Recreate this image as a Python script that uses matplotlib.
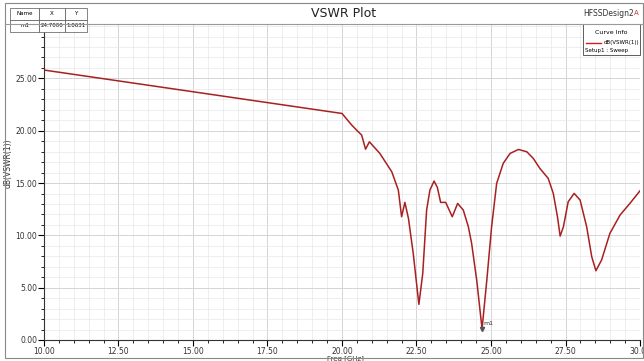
import numpy as np
import matplotlib.pyplot as plt
from matplotlib.patches import Rectangle
from matplotlib.lines import Line2D

# curve
freq = [10.0, 20.0, 20.33, 20.49, 20.66, 20.79, 20.92, 21.27, 21.67, 21.89, 22.0,
        22.11, 22.23, 22.39, 22.58, 22.71, 22.84, 22.95, 23.09, 23.2, 23.31, 23.48,
        23.7, 23.88, 24.07, 24.24, 24.35, 24.52, 24.7, 24.86, 25.02, 25.19, 25.41,
        25.64, 25.92, 26.2, 26.42, 26.64, 26.92, 27.09, 27.23, 27.32, 27.43, 27.59,
        27.79, 27.99, 28.21, 28.38, 28.52, 28.71, 28.99, 29.33, 29.66, 30.0]
vswr_db = [25.8, 21.65, 20.53, 20.06, 19.58, 18.24, 18.94, 17.83, 16.08, 14.33, 11.78,
           13.15, 11.62, 8.28, 3.4, 6.37, 12.42, 14.33, 15.19, 14.58, 13.15, 13.15,
           11.78, 13.05, 12.42, 10.82, 9.23, 5.73, 1.06, 5.73, 10.82, 14.97, 16.88,
           17.83, 18.21, 17.99, 17.35, 16.4, 15.44, 14.01, 11.78, 9.93, 10.82, 13.21,
           14.01, 13.37, 10.82, 7.96, 6.62, 7.64, 10.19, 11.94, 13.05, 14.26]
marker_x = 24.7
marker_y = 1.0631
xticks = [10.0, 12.5, 15.0, 17.5, 20.0, 22.5, 25.0, 27.5, 30.0]
yticks = [0, 5, 10, 15, 20, 25]

fig = plt.figure(figsize=(6.44, 3.61), dpi=100)
ax = fig.add_axes([0.0683, 0.0582, 0.9255, 0.8753])

ax.plot(freq, vswr_db, color='#a82020', linewidth=1.1)
ax.plot(marker_x, marker_y, marker='v', color='#555555', markersize=3)
ax.text(marker_x + 0.05, marker_y + 0.4, 'm1', fontsize=4.5, color='#333333')

ax.set_xlim(10, 30)
ax.set_ylim(0, 30.2)
ax.set_xticks(xticks)
ax.set_xticklabels([f'{t:.2f}' for t in xticks], fontsize=5.5, color='#333333')
ax.set_yticks(yticks)
ax.set_yticklabels([f'{t:.2f}' for t in yticks], fontsize=5.5, color='#333333')
ax.set_xticks(np.arange(10, 30.01, 0.5), minor=True)
ax.set_yticks(np.arange(0, 30.1, 1), minor=True)
ax.tick_params(which='major', length=4, width=0.8, direction='out', pad=1)
ax.tick_params(which='minor', length=2.5, width=0.6, direction='out')
ax.grid(which='major', color='#d4d4d4', linewidth=0.7)
ax.grid(which='minor', color='#e8e8e8', linewidth=0.5)
ax.set_axisbelow(True)
for side in ['top', 'right']:
    ax.spines[side].set_visible(False)
ax.spines['left'].set_color('#333333')
ax.spines['bottom'].set_color('#333333')
ax.set_xlabel('Freq [GHz]', fontsize=5, color='#333333')
ax.xaxis.set_label_coords(0.505, -0.048)
ax.xaxis.label.set_va('top')
ax.set_ylabel('dB(VSWR(1))', fontsize=5.5, color='#333333')
ax.yaxis.set_label_coords(-0.052, 0.56)

# frame and title strip
fig.patches.append(Rectangle((0.008, 0.008), 0.99, 0.985, transform=fig.transFigure,
                             fill=False, edgecolor='#888888', linewidth=0.8))
fig.lines.append(Line2D([0.008, 0.998], [0.934, 0.934], transform=fig.transFigure,
                        color='#999999', linewidth=0.8))
fig.text(0.533, 0.963, 'VSWR Plot', fontsize=9, ha='center', va='center', color='#222222')
fig.text(0.905, 0.963, 'HFSSDesign2', fontsize=5.5, ha='left', va='center', color='#333333')
fig.text(0.984, 0.963, 'A', fontsize=5, ha='left', va='center', color='#cc3333')

# marker table
tab = ax.table(cellText=[['m1', '24.7000', '1.0631']], colLabels=['Name', 'X', 'Y'],
               bbox=[-0.057, 0.975, 0.129, 0.076], cellLoc='center',
               colWidths=[0.38, 0.33, 0.29])
tab.auto_set_font_size(False)
tab.set_fontsize(4)
for cell in tab.get_celld().values():
    cell.set_linewidth(0.5)
    cell.set_edgecolor('#555555')
    cell.PAD = 0.02
tab.set_clip_on(False)
tab.set_zorder(6)

# curve info box
ax.add_patch(Rectangle((0.904, 0.902), 0.096, 0.098, transform=ax.transAxes,
                       facecolor='white', edgecolor='#444444', linewidth=0.6,
                       clip_on=False, zorder=5))
ax.text(0.952, 0.972, 'Curve Info', transform=ax.transAxes, fontsize=4.5,
        ha='center', va='center', zorder=6)
ax.plot([0.909, 0.935], [0.94, 0.94], transform=ax.transAxes, color='#cc2222',
        linewidth=1, zorder=6, clip_on=False)
ax.text(0.94, 0.943, 'dB(VSWR(1))', transform=ax.transAxes, fontsize=4,
        ha='left', va='center', zorder=6)
ax.text(0.908, 0.917, 'Setup1 : Sweep', transform=ax.transAxes, fontsize=4,
        ha='left', va='center', zorder=6)

fig.savefig('out.png', dpi=100)
